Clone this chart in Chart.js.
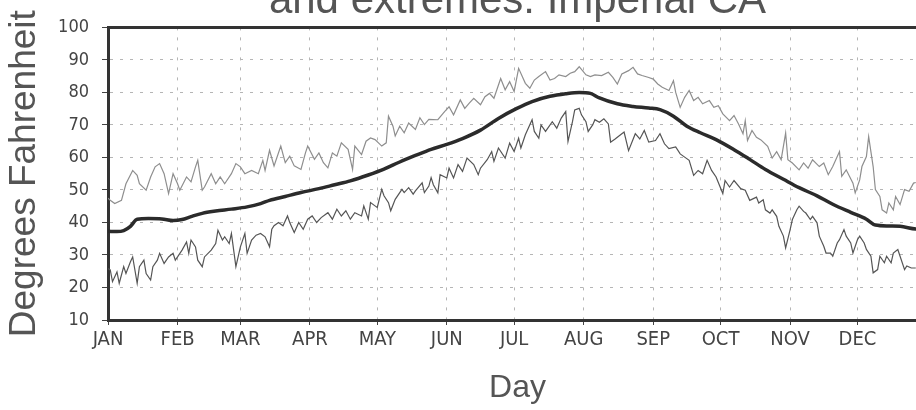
<!DOCTYPE html>
<html><head><meta charset="utf-8">
<script src="https://cdn.jsdelivr.net/npm/chart.js@4.4.1/dist/chart.umd.min.js"></script>
<style>
html,body{margin:0;padding:0;background:#fff;overflow:hidden;width:916px;height:410px;position:relative}
#wrap{position:absolute;left:0;top:-30px;width:930px;height:440px}
</style></head><body><div id="wrap"><canvas id="c" width="930" height="440"></canvas></div>
<script>
const chartTitle = 'and extremes: Imperial CA';
const yAxisTitle = 'Degrees Fahrenheit';
const xAxisTitle = 'Day';
const monthLabels = ['JAN','FEB','MAR','APR','MAY','JUN','JUL','AUG','SEP','OCT','NOV','DEC'];
const monthStartDays = [0,31,59,90,120,151,181,212,243,273,304,334];
const yMin = 10, yMax = 100, yStep = 10;

// daily record highs (upper noisy line)
const upperDays = [0,1,3,6,8,11,13,14,17,19,21,23,25,27,29,31,32,35,37,39,40,42,43,46,48,50,52,55,57,59,61,64,67,69,70,72,
74,77,79,81,83,86,88,89,92,94,96,98,100,102,104,107,109,110,113,115,117,119,122,124,125,127,128,130,132,134,137,139,141,143,
147,150,152,154,157,159,161,163,166,168,170,172,175,177,179,181,183,186,188,190,192,195,197,199,201,204,206,208,210,213,215,217,
220,223,225,227,229,232,234,236,238,241,243,245,247,250,252,253,255,257,259,261,263,265,268,270,272,274,277,279,281,283,284,285,287,289,
291,294,296,298,300,302,303,305,308,310,312,314,317,319,321,323,326,327,329,332,333,335,336,338,339,341,342,344,345,347,348,350,351,353,355,357,359,360];
const upperValues = [47.5,46.8,45.8,46.8,51.9,56.0,54.5,51.9,49.9,54.0,57.1,58.1,55.0,48.9,55.0,51.9,49.9,54.0,52.5,57.1,59.1,49.9,50.9,55.0,51.9,54.0,51.9,55.0,58.1,57.1,55.0,56.0,55.0,59.1,56.0,62.2,
57.4,63.5,58.4,60.4,57.4,56.3,61.4,63.5,59.4,61.4,58.4,56.8,61.4,60.4,64.5,62.5,56.3,63.5,60.9,65.0,66.0,65.5,63.5,64.5,72.7,69.6,66.6,69.6,67.6,70.6,68.6,72.2,70.1,71.7,
71.6,74.1,75.6,73.1,77.7,75.1,76.7,78.2,76.2,78.7,79.7,78.2,84.3,80.8,83.3,80.3,87.4,82.8,81.3,83.8,84.9,86.4,83.8,84.3,85.4,84.9,85.9,86.4,87.9,85.4,84.9,85.4,
85.2,86.2,84.6,82.6,85.7,86.7,87.7,85.7,85.2,84.6,84.1,82.6,81.6,80.6,83.6,80.0,75.4,78.5,80.6,77.5,78.5,76.5,77.5,75.4,75.9,73.4,71.3,72.9,70.3,67.3,71.3,65.2,68.3,66.2,
65.4,63.4,59.8,61.8,59.3,67.5,59.3,58.3,56.2,58.3,56.7,59.3,57.2,58.3,54.7,57.2,61.8,54.2,56.2,52.1,49.1,53.1,57.2,60.3,66.4,57.2,50.1,48.0,43.9,42.9,46.0,43.9,48.0,45.5,50.1,49.6,52.1,52.3];

// daily record lows (lower noisy line)
const lowerDays = [0,1,2,4,5,7,8,10,11,13,14,16,17,19,20,22,23,25,27,29,30,31,33,35,36,37,39,40,42,43,46,48,49,51,52,54,55,57,59,61,62,64,66,68,70,72,
73,74,76,78,80,81,83,85,87,89,91,93,95,98,100,102,104,106,108,110,113,114,116,117,119,120,122,123,125,126,128,131,132,134,136,137,140,141,143,144,
145,147,148,151,152,154,156,158,160,163,165,166,169,171,172,174,177,179,181,183,184,186,189,190,192,193,195,198,200,202,204,205,207,208,210,211,213,214,216,217,
219,221,223,224,226,229,230,232,235,237,239,241,244,246,248,250,253,255,257,259,261,263,265,267,269,271,274,275,277,279,282,284,286,289,
290,292,293,295,296,298,299,301,302,304,305,307,308,310,311,313,314,316,317,319,320,322,323,325,326,328,329,331,332,334,335,337,338,340,341,343,344,346,347,349,350,352,353,355,356,358,360];
const lowerValues = [25.8,25.4,21.8,24.8,21.3,26.4,24.3,27.9,29.4,21.3,26.4,28.4,24.3,22.3,26.4,28.4,30.5,27.4,29.4,30.5,28.4,29.4,31.5,34.0,30.5,34.6,32.5,28.4,26.4,29.4,31.5,33.5,37.6,34.6,35.6,33.5,36.6,26.4,32.5,36.6,30.5,34.6,36.1,36.6,35.6,32.5,
37.9,39.0,40.0,39.0,42.0,40.0,36.9,40.0,37.9,41.0,42.0,40.0,41.5,43.0,41.0,44.1,42.0,43.6,41.0,43.0,42.0,45.1,41.0,46.1,45.1,44.6,50.2,48.2,46.1,43.6,47.1,50.2,49.2,50.7,48.7,49.7,52.2,49.2,51.2,53.8,
51.6,49.1,54.7,53.7,56.7,53.7,57.8,55.7,59.8,57.8,54.7,56.7,59.3,61.8,58.8,62.9,59.8,64.4,61.8,65.9,62.9,67.0,71.6,68.0,65.9,70.0,68.0,71.0,69.0,72.1,74.1,64.9,71.0,74.6,75.1,73.1,71.0,68.0,70.0,71.6,
70.8,71.9,70.3,64.7,65.7,67.3,67.8,62.1,67.3,65.7,68.3,64.7,65.2,67.3,64.2,62.7,63.2,61.1,60.1,59.1,54.5,56.0,55.0,59.1,56.0,54.0,48.9,52.9,50.9,52.9,50.4,49.9,46.8,47.8,
46.0,47.0,43.9,42.9,43.9,41.9,38.8,35.8,32.2,37.8,40.9,43.9,45.0,43.4,42.9,40.9,41.9,39.9,35.8,32.7,30.6,30.6,29.6,33.7,34.7,37.8,35.8,33.7,30.6,34.7,35.8,33.7,31.7,29.6,24.5,25.5,29.6,27.6,29.6,27.6,30.6,31.7,29.6,25.5,26.6,26.0,26.0];

// daily normal (thick smooth line)
const normalDays = [0,4,7,10,13,18,24,29,33,37,42,48,55,62,68,72,79,86,94,101,108,116,123,130,137,144,151,158,166,174,182,189,197,204,210,215,219,227,234,241,246,252,258,264,271,279,286,293,301,308,316,323,331,338,342,348,353,360,365];
const normalValues = [37.3,37.2,37.5,38.8,41.0,41.2,41.1,40.6,40.9,41.8,42.8,43.5,44.1,44.8,45.8,46.8,48.0,49.2,50.4,51.6,52.8,54.6,56.4,58.6,60.6,62.5,64.0,65.8,68.4,72.0,75.0,77.2,78.8,79.6,80.0,79.7,78.3,76.5,75.7,75.2,74.7,72.7,69.6,67.6,65.5,62.4,59.4,56.3,53.3,50.7,48.2,45.6,43.1,41.0,39.2,38.9,38.8,38.0,37.9];

const pts = (xs, ys) => xs.map((x, i) => ({x: x, y: ys[i]}));
const tickFont = {family: "'Liberation Sans Narrow','DejaVu Sans Condensed','Liberation Sans',sans-serif"};

new Chart(document.getElementById('c'), {
  type: 'line',
  data: {
    datasets: [
      {label: 'Normal', data: pts(normalDays, normalValues), borderColor: '#2b2b2b', borderWidth: 3.5, pointRadius: 0, cubicInterpolationMode: 'monotone', order: 0},
      {label: 'Record high', data: pts(upperDays, upperValues), borderColor: '#8e8e8e', borderWidth: 1.2, pointRadius: 0, tension: 0, order: 1},
      {label: 'Record low', data: pts(lowerDays, lowerValues), borderColor: '#555555', borderWidth: 1.2, pointRadius: 0, tension: 0, order: 2}
    ]
  },
  options: {
    responsive: false,
    animation: false,
    devicePixelRatio: 1,
    layout: {padding: {left: 0, right: 3, top: 0, bottom: 0}},
    plugins: {
      legend: {display: false},
      tooltip: {enabled: false},
      title: {display: true, fullSize: false, text: chartTitle, color: '#555', font: {family: "'Liberation Sans',sans-serif", size: 42, weight: 'normal'}, padding: {top: 6, bottom: 1}}
    },
    scales: {
      x: {
        type: 'linear', position: 'bottom', min: 0, max: 365,
        afterBuildTicks: (s) => { s.ticks = monthStartDays.map(v => ({value: v})); },
        afterFit: (s) => { s.height = 90; },
        ticks: {autoSkip: false, maxRotation: 0, padding: 3, color: '#444', font: Object.assign({size: 20}, tickFont),
          callback: (v) => monthLabels[monthStartDays.indexOf(v)]},
        grid: {color: '#b5b5b5', lineWidth: 1, tickLength: 5, tickColor: '#444', tickWidth: 1},
        border: {display: true, color: '#333', width: 3, dash: [3, 7]},
        title: {display: true, text: xAxisTitle, color: '#555', font: {family: "'Liberation Sans',sans-serif", size: 32}, padding: {top: 0, bottom: 3}}
      },
      xTop: {
        type: 'linear', position: 'top', min: 0, max: 365,
        ticks: {display: false}, grid: {display: false, drawTicks: false},
        border: {display: true, color: '#333', width: 3}
      },
      y: {
        type: 'linear', position: 'left', min: yMin, max: yMax,
        afterFit: (s) => { s.width = 108; },
        ticks: {stepSize: yStep, padding: 13, color: '#444', font: Object.assign({size: 18}, tickFont)},
        grid: {color: '#b5b5b5', lineWidth: 1, tickLength: 6, tickColor: '#444', tickWidth: 1},
        border: {display: true, color: '#333', width: 3, dash: [3, 7]},
        title: {display: true, text: yAxisTitle, color: '#555', font: {family: "'Liberation Sans',sans-serif", size: 37}, padding: {top: 3, bottom: 0}}
      }
    }
  }
});
</script></body></html>
